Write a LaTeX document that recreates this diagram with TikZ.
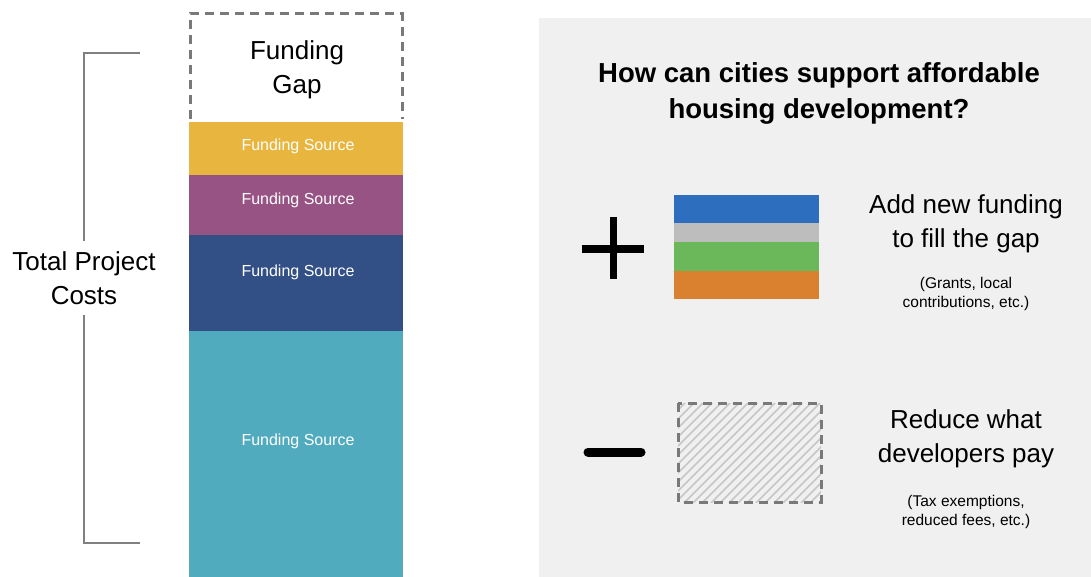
\documentclass[tikz,border=0pt]{standalone}
\usepackage{fontspec}
\setmainfont{Liberation Sans}
\begin{document}
\begin{tikzpicture}[x=1pt,y=-1pt,
  gapdash/.style={draw=gray!95!black,line width=3pt,dash pattern=on 9pt off 6pt},
  srctxt/.style={text=white,font=\fontsize{16}{18}\selectfont},
  bigtxt/.style={align=center,font=\fontsize{26}{34}\selectfont},
  smalltxt/.style={align=center,font=\fontsize{15.5}{18.5}\selectfont},
  bracket/.style={draw=gray,line width=2pt}]
\definecolor{cyel}{HTML}{E8B63E}
\definecolor{cpur}{HTML}{985385}
\definecolor{cdblue}{HTML}{325086}
\definecolor{cteal}{HTML}{50ABBF}
\definecolor{cpanel}{HTML}{F0F0F0}
\definecolor{cblue}{HTML}{2E6EBF}
\definecolor{cgray}{HTML}{BDBDBD}
\definecolor{cgreen}{HTML}{6BB85A}
\definecolor{corange}{HTML}{D9812F}
\definecolor{chatch}{HTML}{C6C6C6}
\useasboundingbox (0,0) rectangle (1091,577);
\fill[white] (0,0) rectangle (1091,577);
% left stack
\draw[gapdash] (190,119) -- (190,14) -- (402,14) -- (402,119);
\node[bigtxt] (gap) at (297,70) {Funding\\Gap};
\fill[cyel] (189,122) rectangle (403,175);
\fill[cpur] (189,175) rectangle (403,235);
\fill[cdblue] (189,235) rectangle (403,331);
\fill[cteal] (189,331) rectangle (403,577);
\node[srctxt] (s1) at (298,146) {Funding Source};
\node[srctxt] (s2) at (298,200) {Funding Source};
\node[srctxt] (s3) at (298,272) {Funding Source};
\node[srctxt] (s4) at (298,441) {Funding Source};
% bracket
\node[bigtxt,inner ysep=10pt] (tpc) at (84,278) {Total Project\\Costs};
\coordinate (bt) at (140,53);
\coordinate (bb) at (140,543);
\draw[bracket] (bt) -- (84,53) -- (tpc.north);
\draw[bracket] (bb) -- (84,543) -- (tpc.south);
% right panel
\fill[cpanel] (539,18) rectangle (1091,577);
\node[align=center,font=\bfseries\fontsize{27.5}{36}\selectfont] (title) at (819,93) {How can cities support affordable\\housing development?};
% plus
\draw[line width=7.5pt] (582,249) -- (644,249);
\draw[line width=7pt] (613,217) -- (613,279);
\coordinate (plus) at (613,249);
% colored stack
\fill[cblue] (674,195) rectangle (819,223);
\fill[cgray] (674,223) rectangle (819,242);
\fill[cgreen] (674,242) rectangle (819,271);
\fill[corange] (674,271) rectangle (819,299);
\node[bigtxt] (add) at (966,224) {Add new funding\\to fill the gap};
\node[smalltxt] (addsub) at (966,294) {(Grants, local\\contributions, etc.)};
% minus
\draw[line width=9pt,line cap=round] (588,452) -- (641,452);
\coordinate (minus) at (614,452);
% hatched box
\begin{scope}
\clip (678,403) rectangle (821,502);
\foreach \i in {-110,-101,...,160}{
  \draw[chatch,line width=1.6pt] (677+\i,503) -- (677+\i+101,402);
}
\end{scope}
\draw[gapdash] (678,403) rectangle (821,502);
\node[bigtxt] (red) at (966,439) {Reduce what\\developers pay};
\node[smalltxt] (redsub) at (966,512) {(Tax exemptions,\\reduced fees, etc.)};
\end{tikzpicture}
\end{document}
